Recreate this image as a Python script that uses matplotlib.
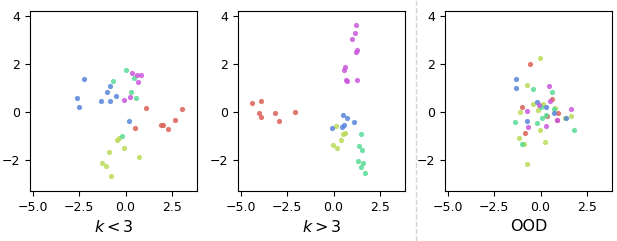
import matplotlib
matplotlib.use("Agg")
import matplotlib.pyplot as plt
import seaborn as sns

colors = sns.color_palette("hls", 5)  # red, lime, green, blue, magenta

# panel 1: k < 3
p1_red = [(1.09, 0.15), (3.02, 0.10), (2.68, -0.36), (2.30, -0.71), (2.02, -0.54), (1.89, -0.57), (0.50, -0.69)]
p1_lime = [(-0.37, -1.08), (-0.45, -1.18), (-0.07, -1.49), (-0.89, -1.67), (0.71, -1.89), (-1.27, -2.15), (-1.07, -2.25), (-0.80, -2.67)]
p1_green = [(-0.68, 1.29), (0.05, 1.74), (0.46, 1.40), (0.29, 0.81), (0.54, 0.57), (-0.18, -0.99)]
p1_blue = [(-2.23, 1.35), (-2.64, 0.56), (-2.50, 0.21), (-1.32, 0.44), (-0.86, 0.47), (-0.98, 0.82), (-0.84, 1.06), (-0.54, 0.64), (0.16, -0.39)]
p1_magenta = [(0.36, 1.61), (0.59, 1.54), (0.84, 1.54), (0.66, 1.26), (0.23, 0.60), (-0.11, 0.50)]

# panel 2: k > 3
p2_red = [(-4.37, 0.36), (-3.91, 0.47), (-4.02, -0.07), (-3.89, -0.22), (-3.16, -0.07), (-2.93, -0.40), (-2.09, 0.00)]
p2_lime = [(0.11, -0.58), (0.50, -0.92), (0.61, -0.89), (0.38, -1.18), (-0.04, -1.37), (0.16, -1.51)]
p2_green = [(1.46, -0.94), (1.39, -1.43), (1.52, -1.58), (1.30, -2.06), (1.59, -2.14), (1.46, -2.28), (1.68, -2.53)]
p2_blue = [(0.52, -0.14), (0.71, -0.25), (0.57, -0.54), (0.43, -0.63), (1.11, -0.44), (-0.07, -0.67)]
p2_magenta = [(1.23, 3.61), (1.16, 3.29), (1.02, 3.04), (1.25, 2.58), (1.21, 2.49), (0.64, 1.86), (0.57, 1.75), (0.66, 1.33), (0.75, 1.28), (1.29, 1.31)]

# panel 3: OOD
p3_red = [(-0.55, 2.00), (0.64, 0.54), (-1.00, 0.21), (0.36, -0.17), (0.93, -0.06), (0.88, -0.33), (-0.84, -0.88)]
p3_lime = [(-0.05, 2.26), (-0.73, 1.13), (-0.43, 0.33), (0.14, 0.33), (-0.16, 0.08), (-1.09, -0.01), (0.79, 0.14),
           (1.34, -0.26), (1.64, -0.19), (-0.02, -0.75), (-1.16, -1.11), (-0.89, -1.35), (0.23, -1.24), (-0.71, -2.17)]
p3_green = [(-0.39, 0.96), (0.64, 0.83), (0.04, 0.19), (0.70, 0.13), (0.09, -0.25), (0.32, -0.14), (-1.39, -0.42),
            (-0.18, -0.47), (-0.98, -1.35), (1.82, -0.75)]
p3_blue = [(-1.30, 1.35), (-1.32, 0.99), (-0.20, 0.40), (0.29, 0.18), (0.73, -0.03), (1.39, -0.24), (-0.71, -0.39)]
p3_magenta = [(0.45, 1.08), (0.52, 0.46), (-0.11, 0.28), (-0.75, 0.04), (1.63, 0.11), (-0.70, -0.63), (0.29, -0.61), (0.88, -0.36)]

panels = [
    ("$k < 3$", [p1_red, p1_lime, p1_green, p1_blue, p1_magenta]),
    ("$k > 3$", [p2_red, p2_lime, p2_green, p2_blue, p2_magenta]),
    ("OOD", [p3_red, p3_lime, p3_green, p3_blue, p3_magenta]),
]

fig = plt.figure(figsize=(6.17, 2.41), dpi=100)
lefts = [30 / 617, 238 / 617, 445 / 617]
w = 167 / 617
for left, (label, groups) in zip(lefts, panels):
    ax = fig.add_axes([left, 50 / 241, w, 180 / 241])
    for c, pts in zip(colors, groups):
        xs = [p[0] for p in pts]
        ys = [p[1] for p in pts]
        ax.scatter(xs, ys, s=14, color=c, alpha=0.85, linewidths=0)
    ax.set_xlim(-5.15, 3.85)
    ax.set_ylim(-3.3, 4.2)
    ax.set_xticks([-5.0, -2.5, 0.0, 2.5])
    ax.set_yticks([-2, 0, 2, 4])
    ax.tick_params(labelsize=9)
    ax.set_xlabel(label, fontsize=11.5)

# dashed separator before the OOD panel
fig.add_artist(plt.Line2D([416 / 617, 416 / 617], [0, 1], transform=fig.transFigure,
                          color="lightgray", linestyle="--", linewidth=1))

fig.savefig("out.png", dpi=100)
